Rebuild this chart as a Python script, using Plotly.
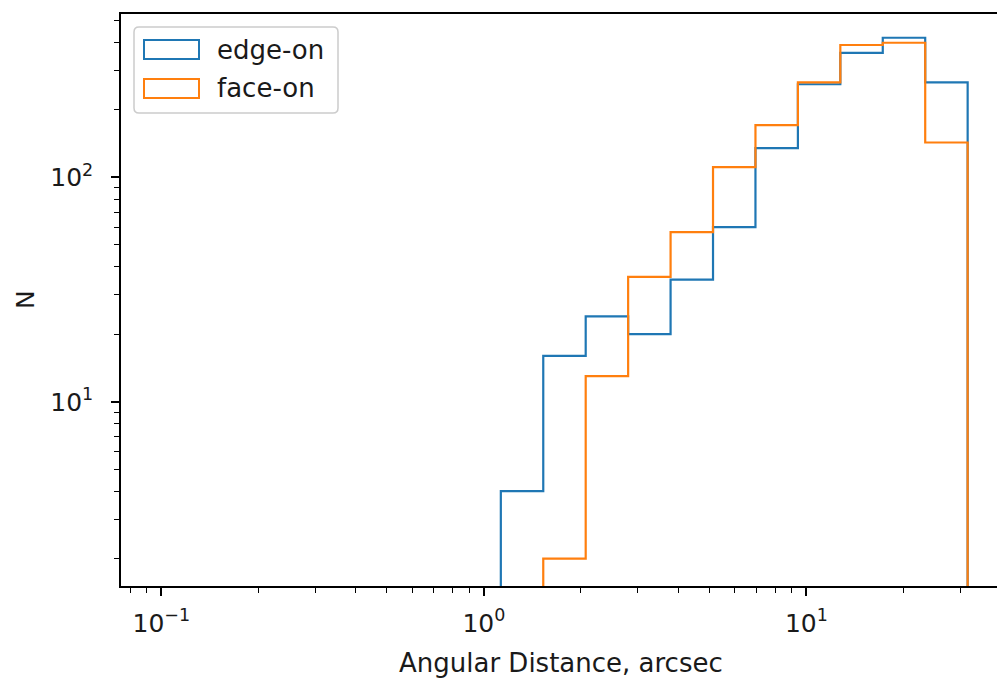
import numpy as np
import plotly.graph_objects as go

# ---- data ----
bin_edges = np.logspace(-1, 1.5, 20)          # 19 log-spaced bins, 0.1 .. 31.6 arcsec
edge_on_counts = [0, 0, 0, 0, 0, 0, 0, 0, 4, 16, 24, 20, 35, 60, 135, 260, 359, 419, 265]
face_on_counts = [0, 0, 0, 0, 0, 0, 0, 0, 0, 2, 13, 36, 57, 111, 171, 265, 389, 398, 143]
series_names = ["edge-on", "face-on"]
series_colors = ["#1f77b4", "#ff7f0e"]
x_tick_vals = [0.1, 1, 10]
x_tick_text = ["10<sup>−1</sup>", "10<sup>0</sup>", "10<sup>1</sup>"]
y_tick_vals = [10, 100]
y_tick_text = ["10<sup>1</sup>", "10<sup>2</sup>"]
x_title = "Angular Distance, arcsec"
y_title = "N"

# ---- layout geometry (pixels) ----
W, H = 997, 682
L, R, T, B = 121, 997, 14, 586
FONT = "DejaVu Sans"
FS = 25
FS_TXT = 26
TXT_COLOR = "#1a1a1a"


def px2x(px):
    return (px - L) / (R - L)


def py2y(py):
    return (B - py) / (B - T)


def step_path(edges, counts, floor=1e-3):
    xs, ys = [edges[0]], [floor]
    for i, c in enumerate(counts):
        v = c if c > 0 else floor
        xs += [edges[i], edges[i + 1]]
        ys += [v, v]
    xs.append(edges[-1])
    ys.append(floor)
    return xs, ys


fig = go.Figure()
for name, counts, color in zip(series_names, [edge_on_counts, face_on_counts], series_colors):
    xs, ys = step_path(bin_edges, counts)
    fig.add_trace(go.Scatter(x=xs, y=ys, mode="lines", name=name,
                             line=dict(color=color, width=2.2), showlegend=False,
                             hoverinfo="skip"))

minor_x = [v * 10.0 ** d for d in (-2, -1, 0, 1) for v in range(2, 10)]
minor_x = [v for v in minor_x if 0.075 < v < 39]
minor_y = [v * 10.0 ** d for d in (0, 1, 2) for v in range(2, 10)]
minor_y = [v for v in minor_y if 1.5 < v < 535]

axis_common = dict(showgrid=False, zeroline=False, showline=True, linecolor="black",
                   linewidth=1.5, ticks="outside", tickcolor="black", tickwidth=1.5,
                   ticklen=8, tickfont=dict(family=FONT, size=FS, color=TXT_COLOR))

fig.update_xaxes(type="log", range=[-1.125, 1.591], tickvals=x_tick_vals, ticktext=x_tick_text,
                 mirror=True, ticklabelstandoff=6,
                 minor=dict(tickvals=minor_x, ticks="outside", ticklen=5, tickwidth=1.2,
                            tickcolor="black"),
                 **axis_common)
fig.update_yaxes(type="log", range=[0.179, 2.728], tickvals=y_tick_vals, ticktext=y_tick_text,
                 ticklabelstandoff=13,
                 minor=dict(tickvals=minor_y, ticks="outside", ticklen=5, tickwidth=1.2,
                            tickcolor="black"),
                 **axis_common)

# ---- legend drawn by hand (matplotlib-style patch handles) ----
lx0, lx1, ly0, ly1, rad = 134, 338, 27, 113, 5
path = (f"M {px2x(lx0 + rad)} {py2y(ly0)} L {px2x(lx1 - rad)} {py2y(ly0)} "
        f"Q {px2x(lx1)} {py2y(ly0)} {px2x(lx1)} {py2y(ly0 + rad)} "
        f"L {px2x(lx1)} {py2y(ly1 - rad)} Q {px2x(lx1)} {py2y(ly1)} {px2x(lx1 - rad)} {py2y(ly1)} "
        f"L {px2x(lx0 + rad)} {py2y(ly1)} Q {px2x(lx0)} {py2y(ly1)} {px2x(lx0)} {py2y(ly1 - rad)} "
        f"L {px2x(lx0)} {py2y(ly0 + rad)} Q {px2x(lx0)} {py2y(ly0)} {px2x(lx0 + rad)} {py2y(ly0)} Z")
shapes = [dict(type="path", xref="paper", yref="paper", path=path,
               line=dict(color="#cccccc", width=1.5), fillcolor="rgba(255,255,255,0.8)")]
annotations = []
handle_rows = [(40, 59), (79, 98)]
for (hy0, hy1), name, color in zip(handle_rows, series_names, series_colors):
    shapes.append(dict(type="rect", xref="paper", yref="paper",
                       x0=px2x(144), x1=px2x(199), y0=py2y(hy1), y1=py2y(hy0),
                       line=dict(color=color, width=2), fillcolor="rgba(0,0,0,0)"))
    annotations.append(dict(text=name, xref="paper", yref="paper", x=px2x(215),
                            y=py2y((hy0 + hy1) / 2), xanchor="left", yanchor="middle",
                            showarrow=False, font=dict(family=FONT, size=FS_TXT, color=TXT_COLOR)))

annotations.append(dict(text=x_title, xref="paper", yref="paper", x=px2x(561), y=py2y(663),
                        xanchor="center", yanchor="middle", showarrow=False,
                        font=dict(family=FONT, size=FS_TXT, color=TXT_COLOR)))
annotations.append(dict(text=y_title, xref="paper", yref="paper", x=px2x(25), y=py2y(300),
                        xanchor="center", yanchor="middle", showarrow=False, textangle=-90,
                        font=dict(family=FONT, size=FS, color=TXT_COLOR)))

fig.update_layout(width=W, height=H, margin=dict(l=L, r=W - R, t=T, b=H - B),
                  paper_bgcolor="white", plot_bgcolor="white", showlegend=False,
                  shapes=shapes, annotations=annotations)

fig.write_html("out.html", config={"displayModeBar": False},
               post_script="document.body.style.margin='0';"
                           "document.body.style.overflow='hidden';")
